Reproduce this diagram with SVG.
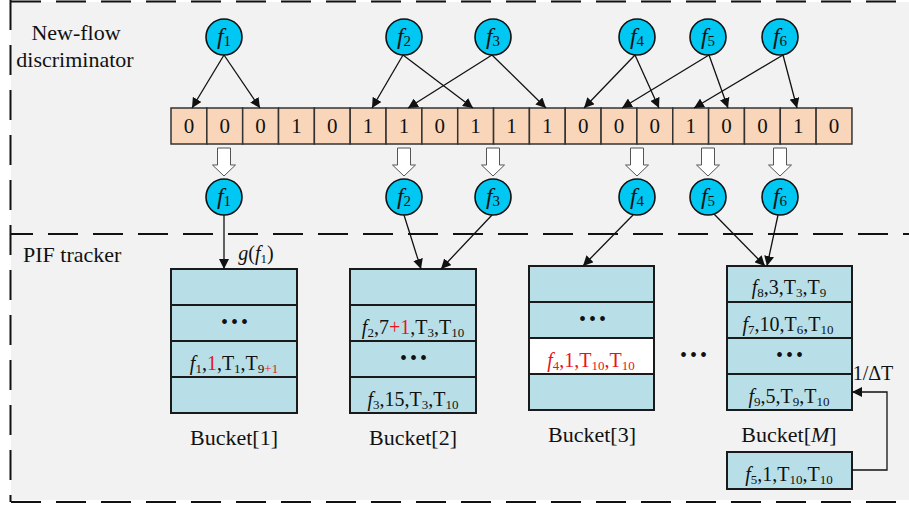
<svg xmlns="http://www.w3.org/2000/svg" width="909" height="508" viewBox="0 0 909 508">
  <style>
    text { font-family: "Liberation Serif", "DejaVu Serif", serif; fill: #111; }
    .title { font-size: 22px; }
    .bit { font-size: 21px; text-anchor: middle; }
    .flow { fill: #00c8f2; stroke: #111; stroke-width: 1.6; }
    .fl { font-size: 24px; text-anchor: middle; }
    .fl .sub { font-size: 15px; }
    .it { font-style: italic; }
    .sub { font-size: 13px; }
    .cell { fill: #f9d6b9; stroke: #333; stroke-width: 1.5; }
    .slot { fill: #b8dfe8; stroke: #1a1a1a; stroke-width: 2; }
    .hot { fill: #ffffff; stroke: #1a1a1a; stroke-width: 2; }
    .row { font-size: 20px; text-anchor: middle; }
    .red { fill: #e8141c; }
    .dots { font-size: 20px; text-anchor: middle; letter-spacing: 3px; }
    .lbl { font-size: 22px; text-anchor: middle; }
    .conn line, .conn polyline { stroke: #111; stroke-width: 1.3; fill: none; marker-end: url(#ah); }
    .hollow { fill: #ffffff; stroke: #555; stroke-width: 1; }
    .dash { stroke: #111; stroke-width: 2; stroke-dasharray: 30 15; fill: none; }
  </style>
  <defs>
    <marker id="ah" viewBox="0 0 10 10" refX="10" refY="5" markerWidth="10" markerHeight="10" markerUnits="userSpaceOnUse" orient="auto">
      <path d="M0,0 L10,5 L0,10 Z" fill="#111"/>
    </marker>
    <polygon id="hollowArrow" class="hollow" points="-6.5,0 6.5,0 6.5,17 11.5,17 0,28 -11.5,17 -6.5,17"/>
  </defs>

  <!-- background panel -->
  <rect x="0" y="0" width="909" height="508" fill="#ffffff"/>
  <rect x="11" y="2" width="898" height="498" fill="#f2f2f2"/>

  <!-- section borders -->
  <g id="borders">
    <line class="dash" x1="11" y1="1.5" x2="909" y2="1.5"/>
    <line class="dash" x1="10.5" y1="0" x2="10.5" y2="502"/>
    <line class="dash" x1="11" y1="234" x2="909" y2="234" stroke-dashoffset="8"/>
    <line class="dash" x1="11" y1="502" x2="909" y2="502"/>
  </g>

  <!-- section titles -->
  <g id="section-titles">
    <text class="title" x="76" y="40" text-anchor="middle">New-flow</text>
    <text class="title" x="75" y="67" text-anchor="middle">discriminator</text>
    <text class="title" x="23" y="262">PIF tracker</text>
  </g>

  <!-- bit array -->
  <g id="bit-array">
    <rect class="cell" x="171" y="108" width="35.84" height="36"/>
    <rect class="cell" x="206.84" y="108" width="35.84" height="36"/>
    <rect class="cell" x="242.68" y="108" width="35.84" height="36"/>
    <rect class="cell" x="278.52" y="108" width="35.84" height="36"/>
    <rect class="cell" x="314.36" y="108" width="35.84" height="36"/>
    <rect class="cell" x="350.2" y="108" width="35.84" height="36"/>
    <rect class="cell" x="386.04" y="108" width="35.84" height="36"/>
    <rect class="cell" x="421.88" y="108" width="35.84" height="36"/>
    <rect class="cell" x="457.72" y="108" width="35.84" height="36"/>
    <rect class="cell" x="493.56" y="108" width="35.84" height="36"/>
    <rect class="cell" x="529.4" y="108" width="35.84" height="36"/>
    <rect class="cell" x="565.24" y="108" width="35.84" height="36"/>
    <rect class="cell" x="601.08" y="108" width="35.84" height="36"/>
    <rect class="cell" x="636.92" y="108" width="35.84" height="36"/>
    <rect class="cell" x="672.76" y="108" width="35.84" height="36"/>
    <rect class="cell" x="708.6" y="108" width="35.84" height="36"/>
    <rect class="cell" x="744.44" y="108" width="35.84" height="36"/>
    <rect class="cell" x="780.28" y="108" width="35.84" height="36"/>
    <rect class="cell" x="816.12" y="108" width="35.84" height="36"/>
    <text class="bit" x="188.9" y="133">0</text>
    <text class="bit" x="224.8" y="133">0</text>
    <text class="bit" x="260.6" y="133">0</text>
    <text class="bit" x="296.4" y="133">1</text>
    <text class="bit" x="332.3" y="133">0</text>
    <text class="bit" x="368.1" y="133">1</text>
    <text class="bit" x="404" y="133">1</text>
    <text class="bit" x="439.8" y="133">0</text>
    <text class="bit" x="475.6" y="133">1</text>
    <text class="bit" x="511.5" y="133">1</text>
    <text class="bit" x="547.3" y="133">1</text>
    <text class="bit" x="583.2" y="133">0</text>
    <text class="bit" x="619" y="133">0</text>
    <text class="bit" x="654.8" y="133">0</text>
    <text class="bit" x="690.7" y="133">1</text>
    <text class="bit" x="726.5" y="133">0</text>
    <text class="bit" x="762.4" y="133">0</text>
    <text class="bit" x="798.2" y="133">1</text>
    <text class="bit" x="834" y="133">0</text>
  </g>

  <!-- incoming flows (top) -->
  <g id="flow-in-1"><circle class="flow" cx="224" cy="37" r="18"/><text class="fl" x="224" y="44"><tspan class="it">f</tspan><tspan class="sub" dy="2">1</tspan></text></g>
  <g id="flow-in-2"><circle class="flow" cx="404" cy="37" r="18"/><text class="fl" x="404" y="44"><tspan class="it">f</tspan><tspan class="sub" dy="2">2</tspan></text></g>
  <g id="flow-in-3"><circle class="flow" cx="493" cy="37" r="18"/><text class="fl" x="493" y="44"><tspan class="it">f</tspan><tspan class="sub" dy="2">3</tspan></text></g>
  <g id="flow-in-4"><circle class="flow" cx="637" cy="37" r="18"/><text class="fl" x="637" y="44"><tspan class="it">f</tspan><tspan class="sub" dy="2">4</tspan></text></g>
  <g id="flow-in-5"><circle class="flow" cx="708" cy="37" r="18"/><text class="fl" x="708" y="44"><tspan class="it">f</tspan><tspan class="sub" dy="2">5</tspan></text></g>
  <g id="flow-in-6"><circle class="flow" cx="780" cy="37" r="18"/><text class="fl" x="780" y="44"><tspan class="it">f</tspan><tspan class="sub" dy="2">6</tspan></text></g>

  <!-- flows after discrimination -->
  <g id="flow-out-1"><circle class="flow" cx="224" cy="197" r="18"/><text class="fl" x="224" y="204"><tspan class="it">f</tspan><tspan class="sub" dy="2">1</tspan></text></g>
  <g id="flow-out-2"><circle class="flow" cx="404" cy="197" r="18"/><text class="fl" x="404" y="204"><tspan class="it">f</tspan><tspan class="sub" dy="2">2</tspan></text></g>
  <g id="flow-out-3"><circle class="flow" cx="493" cy="197" r="18"/><text class="fl" x="493" y="204"><tspan class="it">f</tspan><tspan class="sub" dy="2">3</tspan></text></g>
  <g id="flow-out-4"><circle class="flow" cx="637" cy="197" r="18"/><text class="fl" x="637" y="204"><tspan class="it">f</tspan><tspan class="sub" dy="2">4</tspan></text></g>
  <g id="flow-out-5"><circle class="flow" cx="708" cy="197" r="18"/><text class="fl" x="708" y="204"><tspan class="it">f</tspan><tspan class="sub" dy="2">5</tspan></text></g>
  <g id="flow-out-6"><circle class="flow" cx="780" cy="197" r="18"/><text class="fl" x="780" y="204"><tspan class="it">f</tspan><tspan class="sub" dy="2">6</tspan></text></g>

  <!-- buckets -->
  <g id="bucket-1">
    <rect class="slot" x="171" y="269" width="126" height="36"/>
    <rect class="slot" x="171" y="305" width="126" height="36"/>
    <rect class="slot" x="171" y="341" width="126" height="36"/>
    <rect class="slot" x="171" y="377" width="126" height="36"/>
    <text class="dots" x="236" y="329">•••</text>
    <text class="row" x="234" y="370"><tspan class="it">f</tspan><tspan class="sub" dy="3">1</tspan><tspan dy="-3">,</tspan><tspan class="red">1</tspan>,T<tspan class="sub" dy="3">1</tspan><tspan dy="-3">,T</tspan><tspan class="sub" dy="3">9</tspan><tspan class="sub red">+1</tspan></text>
    <text class="lbl" x="234" y="445">Bucket[1]</text>
  </g>
  <g id="bucket-2">
    <rect class="slot" x="350" y="269" width="126" height="36"/>
    <rect class="slot" x="350" y="305" width="126" height="36"/>
    <rect class="slot" x="350" y="341" width="126" height="36"/>
    <rect class="slot" x="350" y="377" width="126" height="36"/>
    <text class="row" x="413" y="334"><tspan class="it">f</tspan><tspan class="sub" dy="3">2</tspan><tspan dy="-3">,7</tspan><tspan class="red">+1</tspan>,T<tspan class="sub" dy="3">3</tspan><tspan dy="-3">,T</tspan><tspan class="sub" dy="3">10</tspan></text>
    <text class="dots" x="415" y="365">•••</text>
    <text class="row" x="413" y="406"><tspan class="it">f</tspan><tspan class="sub" dy="3">3</tspan><tspan dy="-3">,15,T</tspan><tspan class="sub" dy="3">3</tspan><tspan dy="-3">,T</tspan><tspan class="sub" dy="3">10</tspan></text>
    <text class="lbl" x="413" y="445">Bucket[2]</text>
  </g>
  <g id="bucket-3">
    <rect class="slot" x="529" y="266" width="125" height="36"/>
    <rect class="slot" x="529" y="302" width="125" height="36"/>
    <rect class="hot" x="529" y="338" width="125" height="36"/>
    <rect class="slot" x="529" y="374" width="125" height="36"/>
    <text class="dots" x="594" y="326">•••</text>
    <text class="row red" x="591" y="367"><tspan class="it red">f</tspan><tspan class="sub red" dy="3">4</tspan><tspan class="red" dy="-3">,1,T</tspan><tspan class="sub red" dy="3">10</tspan><tspan class="red" dy="-3">,T</tspan><tspan class="sub red" dy="3">10</tspan></text>
    <text class="lbl" x="592" y="442">Bucket[3]</text>
  </g>
  <g id="bucket-gap">
    <text class="dots" x="695" y="362">•••</text>
  </g>
  <g id="bucket-M">
    <rect class="slot" x="727" y="266" width="125" height="36"/>
    <rect class="slot" x="727" y="302" width="125" height="36"/>
    <rect class="slot" x="727" y="338" width="125" height="36"/>
    <rect class="slot" x="727" y="374" width="125" height="36"/>
    <text class="row" x="789" y="294"><tspan class="it">f</tspan><tspan class="sub" dy="3">8</tspan><tspan dy="-3">,3,T</tspan><tspan class="sub" dy="3">3</tspan><tspan dy="-3">,T</tspan><tspan class="sub" dy="3">9</tspan></text>
    <text class="row" x="788" y="331"><tspan class="it">f</tspan><tspan class="sub" dy="3">7</tspan><tspan dy="-3">,10,T</tspan><tspan class="sub" dy="3">6</tspan><tspan dy="-3">,T</tspan><tspan class="sub" dy="3">10</tspan></text>
    <text class="dots" x="791" y="362">•••</text>
    <text class="row" x="789" y="403"><tspan class="it">f</tspan><tspan class="sub" dy="3">9</tspan><tspan dy="-3">,5,T</tspan><tspan class="sub" dy="3">9</tspan><tspan dy="-3">,T</tspan><tspan class="sub" dy="3">10</tspan></text>
    <text class="lbl" x="789" y="442">Bucket[<tspan class="it">M</tspan>]</text>
  </g>
  <g id="pending-entry">
    <rect class="slot" x="727" y="452" width="125" height="37"/>
    <text class="row" x="789" y="481"><tspan class="it">f</tspan><tspan class="sub" dy="3">5</tspan><tspan dy="-3">,1,T</tspan><tspan class="sub" dy="3">10</tspan><tspan dy="-3">,T</tspan><tspan class="sub" dy="3">10</tspan></text>
  </g>

  <!-- connectors -->
  <g id="connectors" class="conn">
    <!-- hashing into the bit array -->
    <line x1="224" y1="55" x2="192" y2="108"/>
    <line x1="224" y1="55" x2="260" y2="108"/>
    <line x1="403" y1="55" x2="372" y2="108"/>
    <line x1="403" y1="55" x2="473" y2="108"/>
    <line x1="492" y1="55" x2="408" y2="108"/>
    <line x1="492" y1="55" x2="546" y2="108"/>
    <line x1="635" y1="55" x2="584" y2="108"/>
    <line x1="635" y1="55" x2="659" y2="108"/>
    <line x1="709" y1="55" x2="622" y2="108"/>
    <line x1="709" y1="55" x2="728" y2="108"/>
    <line x1="783" y1="55" x2="694" y2="108"/>
    <line x1="783" y1="55" x2="797" y2="108"/>
    <!-- flows into buckets -->
    <line x1="224" y1="215" x2="224" y2="269"/>
    <line x1="404" y1="215" x2="421" y2="269"/>
    <line x1="492" y1="215" x2="441" y2="269"/>
    <line x1="633" y1="215" x2="583" y2="266"/>
    <line x1="714" y1="214" x2="765" y2="266"/>
    <line x1="778" y1="215" x2="767" y2="266"/>
    <!-- periodic re-insertion -->
    <polyline points="852,470 887,470 887,392 852,392"/>
  </g>
  <g id="hollow-arrows">
    <use href="#hollowArrow" x="224" y="148"/>
    <use href="#hollowArrow" x="404" y="148"/>
    <use href="#hollowArrow" x="493" y="148"/>
    <use href="#hollowArrow" x="637" y="148"/>
    <use href="#hollowArrow" x="708" y="148"/>
    <use href="#hollowArrow" x="780" y="148"/>
  </g>
  <g id="connector-labels">
    <text class="row" x="256" y="260"><tspan class="it">g</tspan>(<tspan class="it">f</tspan><tspan class="sub" dy="3">1</tspan><tspan dy="-3">)</tspan></text>
    <text class="row" x="873" y="380">1/ΔT</text>
  </g>
</svg>
